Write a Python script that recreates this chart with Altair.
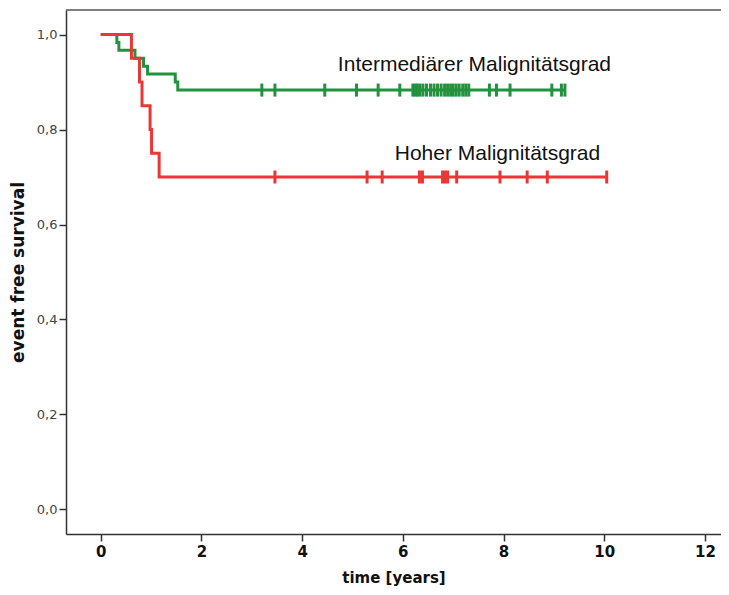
import altair as alt
import pandas as pd

# Kaplan-Meier step data (time in years, survival)
green_times = [0.0, 0.32, 0.36, 0.68, 0.85, 0.93, 1.48, 1.53, 9.22]
green_surv = [1.0, 0.983, 0.967, 0.950, 0.933, 0.917, 0.900, 0.883, 0.883]
green_censor = [3.20, 3.46, 4.45, 5.08, 5.51, 5.94, 6.20, 6.25, 6.29, 6.34, 6.40,
                6.47, 6.55, 6.62, 6.69, 6.76, 6.83, 6.89, 6.95, 7.00, 7.06, 7.12,
                7.19, 7.25, 7.31, 7.72, 7.86, 8.13, 8.96, 9.15, 9.22]
green_censor_surv = 0.883

red_times = [0.0, 0.61, 0.77, 0.82, 0.98, 1.01, 1.16, 10.05]
red_surv = [1.0, 0.95, 0.90, 0.85, 0.80, 0.75, 0.70, 0.70]
red_censor = [3.46, 5.29, 5.59, 6.33, 6.39, 6.79, 6.84, 6.89, 7.07, 7.93, 8.47,
              8.87, 10.05]
red_censor_surv = 0.70

groups = ["Intermediärer Malignitätsgrad", "Hoher Malignitätsgrad"]
colors = ["#22923f", "#ee3535"]

steps = pd.DataFrame(
    [{"t": t, "s": s, "g": groups[0], "o": 0} for t, s in zip(green_times, green_surv)]
    + [{"t": t, "s": s, "g": groups[1], "o": 1} for t, s in zip(red_times, red_surv)]
)
cens = pd.DataFrame(
    [{"t": t, "s": green_censor_surv, "g": groups[0]} for t in green_censor]
    + [{"t": t, "s": red_censor_surv, "g": groups[1]} for t in red_censor]
)

xscale = alt.Scale(domain=[-0.69, 12.32], nice=False, zero=False)
yscale = alt.Scale(domain=[-0.0516, 1.0516], nice=False, zero=False)
cscale = alt.Scale(domain=groups, range=colors)

xaxis = alt.Axis(values=[0, 2, 4, 6, 8, 10, 12], grid=False, title="time [years]",
                 labelFont="DejaVu Sans", labelFontSize=15, labelFontWeight="bold",
                 labelColor="#111", titleFont="DejaVu Sans", titleFontSize=15,
                 titleFontWeight="bold", titleColor="#111", titlePadding=11,
                 domainColor="#333", domainWidth=1.5, tickColor="#333", tickWidth=1.5,
                 tickSize=7, labelPadding=3)
yaxis = alt.Axis(values=[0, 0.2, 0.4, 0.6, 0.8, 1.0], grid=False,
                 title="event free survival",
                 labelExpr="replace(format(datum.value, '.1f'), '.', ',')",
                 labelFont="DejaVu Sans", labelFontSize=13, labelColor="#444",
                 titleFont="DejaVu Sans", titleFontSize=17, titleFontWeight="bold",
                 titleColor="#111", titlePadding=9,
                 domainColor="#333", domainWidth=1.5, tickColor="#333", tickWidth=1.5,
                 tickSize=7, labelPadding=2)

lines = alt.Chart(steps).mark_line(interpolate="step-after", strokeWidth=3).encode(
    x=alt.X("t:Q", scale=xscale, axis=xaxis),
    y=alt.Y("s:Q", scale=yscale, axis=yaxis),
    color=alt.Color("g:N", scale=cscale, legend=None),
    detail="g:N",
    order="t:Q",
)

ticks = alt.Chart(cens).mark_tick(thickness=3, size=13, opacity=1).encode(
    x=alt.X("t:Q", scale=xscale),
    y=alt.Y("s:Q", scale=yscale),
    color=alt.Color("g:N", scale=cscale, legend=None),
)

top_line = alt.Chart(pd.DataFrame({"a": [0]})).mark_rule(color="#555", strokeWidth=1.5).encode(
    x=alt.value(0), x2=alt.value(655), y=alt.value(0)
)

label1 = alt.Chart(pd.DataFrame({"a": [0]})).mark_text(
    text=groups[0], font="Liberation Sans", fontSize=21, align="left",
    baseline="alphabetic", color="#111"
).encode(x=alt.datum(4.71), y=alt.datum(0.924))

label2 = alt.Chart(pd.DataFrame({"a": [0]})).mark_text(
    text=groups[1], font="Liberation Sans", fontSize=21, align="left",
    baseline="alphabetic", color="#111"
).encode(x=alt.datum(5.84), y=alt.datum(0.736))

chart = alt.layer(top_line, lines.transform_filter(alt.datum.o == 0),
                  lines.transform_filter(alt.datum.o == 1), ticks, label1, label2).properties(
    width=655, height=524,
    autosize=alt.AutoSizeParams(type="none"),
    padding={"left": 58, "top": 2, "right": 0, "bottom": 53},
    background="white",
).configure_view(stroke=None)

chart.save("out.html", embed_options={"renderer": "svg", "actions": False})
